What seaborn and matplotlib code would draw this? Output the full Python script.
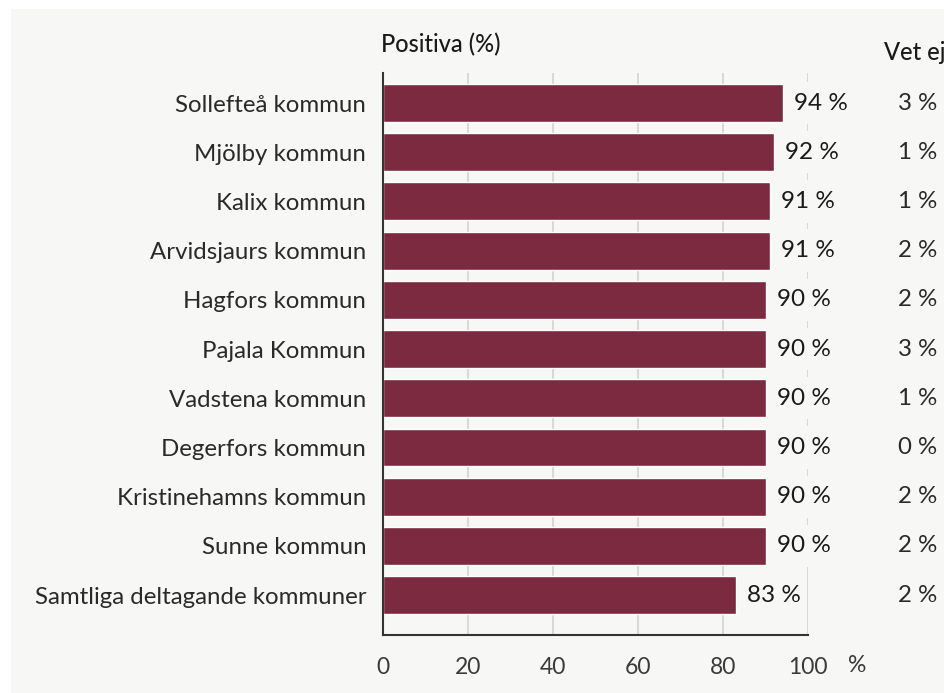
import matplotlib
matplotlib.use("Agg")
import matplotlib.pyplot as plt
import matplotlib.transforms as mtrans
import seaborn as sns
import pandas as pd
from matplotlib.patches import Rectangle

kommuner = ["Sollefteå kommun", "Mjölby kommun", "Kalix kommun", "Arvidsjaurs kommun",
            "Hagfors kommun", "Pajala Kommun", "Vadstena kommun", "Degerfors kommun",
            "Kristinehamns kommun", "Sunne kommun", "Samtliga deltagande kommuner"]
positiva = [94, 92, 91, 91, 90, 90, 90, 90, 90, 90, 83]
vet_ej = [3, 1, 1, 2, 2, 3, 1, 0, 2, 2, 2]
xticks = [0, 20, 40, 60, 80, 100]

BG = "#f7f7f5"
BAR = "#7b2a40"
TXT = "#1a1a1a"

sns.set_theme(style="white")
plt.rcParams["font.family"] = ["Lato", "DejaVu Sans"]

W, H = 944, 693
fig = plt.figure(figsize=(W / 100, H / 100), dpi=100)
fig.patch.set_facecolor("white")
fig.add_artist(Rectangle((11 / W, 0), 1, 1 - 9 / H, transform=fig.transFigure,
                         facecolor=BG, edgecolor="none", zorder=-10))

ax = fig.add_axes([383 / W, 1 - 635 / H, (808 - 383) / W, (635 - 73) / H])
ax.set_facecolor(BG)
ax.patch.set_alpha(0)

df = pd.DataFrame({"kommun": kommuner, "positiva": positiva})
sns.barplot(data=df, y="kommun", x="positiva", orient="h", color=BAR,
            width=0.77, saturation=1, ax=ax, zorder=2)

ax.set_xlim(0, 100)
ax.set_ylim(10.81, -0.61)
ax.set_xticks(xticks)
ax.set_xticklabels([str(t) for t in xticks])
ax.set_xlabel("")
ax.set_ylabel("")
for t in xticks[1:]:
    ax.axvline(t, color="#d2d2d2", lw=1.2, zorder=0)
for s in ["top", "right"]:
    ax.spines[s].set_visible(False)
for s in ["left", "bottom"]:
    ax.spines[s].set_color("#333333")
    ax.spines[s].set_linewidth(1.5)
    ax.spines[s].set_zorder(3)
ax.tick_params(axis="x", length=0, labelsize=16.5, labelcolor="#3a3a3a", pad=16)
ax.tick_params(axis="y", length=0, labelsize=17.3, labelcolor="#2a2a2a", pad=12)

ax.text((848 - 383) / 425, -(665 - 635) / 562, "%", transform=ax.transAxes,
        ha="left", va="center", fontsize=16.5, color="#3a3a3a")

ax.text(-0.005, 1.03, "Positiva (%)", transform=ax.transAxes, ha="left", va="bottom",
        fontsize=17, color=TXT, fontweight="medium")
fig.text(884 / W, 1 - 52 / H, "Vet ej", ha="left", va="center", fontsize=17,
         color=TXT, fontweight="medium")

labels = []
for i, v in enumerate(positiva):
    t = ax.text(v + 2.6, i, f"{v} %", ha="left", va="center", fontsize=17.5,
                color=TXT, zorder=5, clip_on=False)
    labels.append((i, t))
blend = mtrans.blended_transform_factory(fig.transFigure, ax.transData)
for i, v in enumerate(vet_ej):
    ax.text(937 / W, i, f"{v} %", transform=blend, ha="right", va="center",
            fontsize=17.3, color="#2a2a2a", clip_on=False)

fig.canvas.draw()
r = fig.canvas.get_renderer()
inv = ax.transData.inverted()
for i, t in labels:
    bb = t.get_window_extent(r)
    x0 = inv.transform((bb.x0, 0))[0]
    x1 = inv.transform((bb.x1, 0))[0]
    ax.add_patch(Rectangle((x0 - 0.5, i - 0.43), x1 - x0 + 1, 0.86, facecolor=BG,
                           edgecolor="none", zorder=1, clip_on=False))

fig.savefig("out.png", dpi=100, facecolor="white")
